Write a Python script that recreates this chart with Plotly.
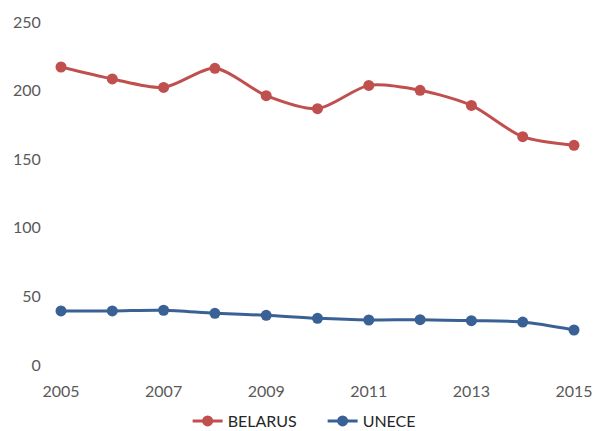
import plotly.graph_objects as go

years = [2005, 2006, 2007, 2008, 2009, 2010, 2011, 2012, 2013, 2014, 2015]
belarus = [217.2, 208.5, 202.3, 216.2, 196.3, 186.8, 203.8, 200.2, 189.2, 166.4, 160.1]
unece = [39.4, 39.4, 39.9, 37.7, 36.2, 34.0, 32.8, 33.0, 32.3, 31.3, 25.5]
x_ticks = [2005, 2007, 2009, 2011, 2013, 2015]
y_ticks = [0, 50, 100, 150, 200, 250]

RED = "#C0504D"
BLUE = "#3A6195"
GREY = "#595959"
FONT = "Lato, Open Sans, sans-serif"

fig = go.Figure()
for name, vals, col in [("BELARUS", belarus, RED), ("UNECE", unece, BLUE)]:
    fig.add_trace(go.Scatter(
        x=years, y=vals, name=name, mode="lines+markers",
        line=dict(color=col, width=3, shape="spline", smoothing=0.8),
        marker=dict(color=col, size=11),
        cliponaxis=False,
    ))

# page body has an 8px margin, so the figure is drawn 8px in from the top-left
fig.update_layout(
    width=595, height=423,
    margin=dict(l=53, r=29, t=14, b=66, autoexpand=False),
    paper_bgcolor="white", plot_bgcolor="white",
    font=dict(family=FONT, color=GREY, size=16),
    showlegend=True,
    legend=dict(orientation="h", x=0.51, xanchor="center",
                yref="container", y=0.0236, yanchor="middle",
                font=dict(size=16, color="#262626"), itemwidth=30,
                entrywidth=90, entrywidthmode="pixels"),
    xaxis=dict(range=[2005, 2015], tickvals=x_ticks, showgrid=False, zeroline=False,
               showline=False, ticks="outside", ticklen=12, tickcolor="rgba(0,0,0,0)",
               automargin=False),
    yaxis=dict(range=[0, 250], tickvals=y_ticks, showgrid=False, zeroline=False,
               showline=False, ticks="outside", ticklen=16, tickcolor="rgba(0,0,0,0)",
               automargin=False),
)

fig.write_html("out.html")
